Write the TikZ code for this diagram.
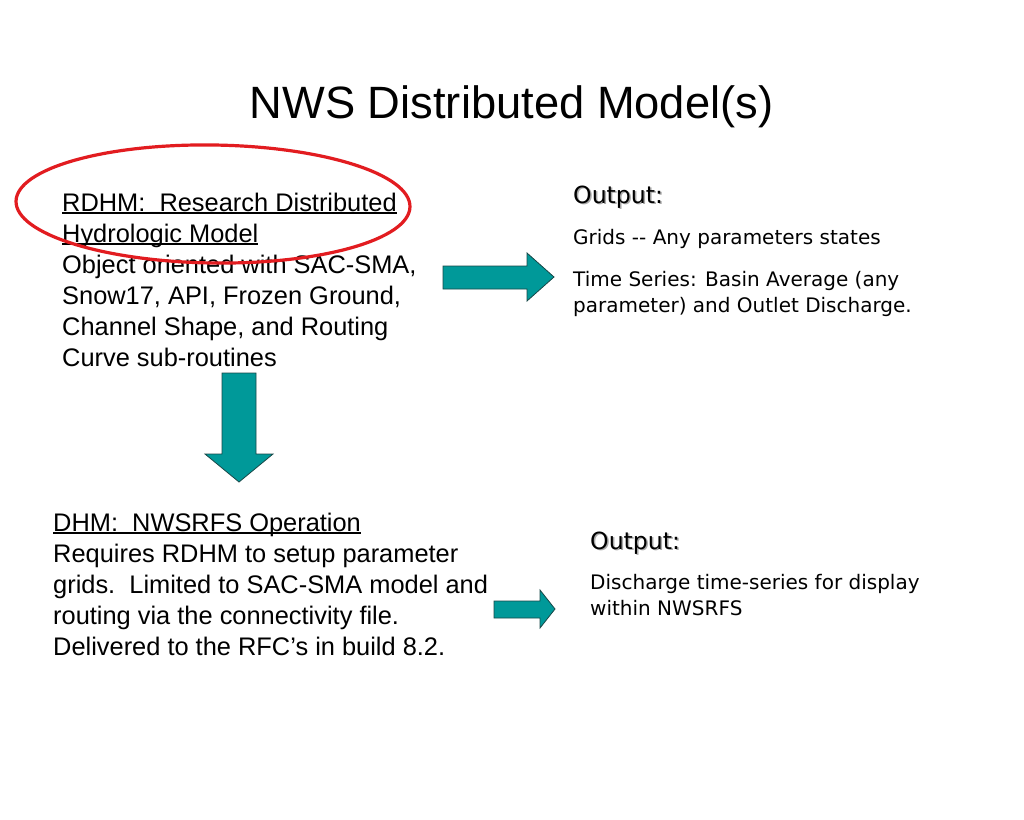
\documentclass[tikz,border=0pt]{standalone}
\usepackage{fontspec}
\setmainfont{Liberation Sans}
\newfontfamily\outfont{DejaVu Sans}
\definecolor{arrowteal}{RGB}{0,153,153}
\definecolor{arrowedge}{RGB}{24,72,72}
\definecolor{ringred}{RGB}{226,28,32}
\definecolor{shadowgray}{RGB}{170,170,170}
\newcommand\ulin[1]{\setbox0\hbox{#1}\rlap{\rule[-2.6pt]{\wd0}{1.3pt}}#1}
\begin{document}
\begin{tikzpicture}[x=1pt,y=-1pt,
  lefttext/.style={anchor=base west, inner sep=0pt, align=left, font=\fontsize{25.4}{31}\selectfont},
  outtext/.style={anchor=base west, inner sep=0pt, align=left, font=\outfont\fontsize{20}{26}\selectfont},
  outhead/.style={anchor=base west, inner sep=0pt, font=\outfont\fontsize{23.6}{30}\selectfont},
  blockarrow/.style={fill=arrowteal, draw=arrowedge, line width=0.8pt, line join=miter},
  ring/.style={draw=ringred, line width=3.2pt}]
\useasboundingbox (0,0) rectangle (1024,819);
\fill[white] (0,0) rectangle (1024,819);

\node[anchor=base, inner sep=0pt, font=\fontsize{45.3}{54}\selectfont] (title) at (511.5,118) {NWS Distributed Model(s)};

% base anchor of a multi-line node is the baseline of its last line
\node[lefttext] (rdhm) at (62,366) {\ulin{RDHM:\ \ Research Distributed}\\ \ulin{Hydrologic Model}\\ Object oriented with SAC-SMA,\\ Snow17, API, Frozen Ground,\\ Channel Shape, and Routing\\ Curve sub-routines};

\node[lefttext] (dhm) at (53,655) {\ulin{DHM:\ \ NWSRFS Operation}\\ Requires RDHM to setup parameter\\ grids.\ \ Limited to SAC-SMA model and\\ routing via the connectivity file.\\ Delivered to the RFC’s in build 8.2.};

\draw[ring, rotate around={-0.8:(213,204)}] (213,204) ellipse [x radius=197, y radius=59];

\node[outhead, text=shadowgray] at (574.5,204.5) {Output:};
\node[outhead] (outhead1) at (573,203) {Output:};
\node[outtext] (out1) at (573,312) {Grids -{}- Any parameters states\\[16pt] Time Series: Basin Average (any\\ parameter) and Outlet Discharge.};

\node[outhead, text=shadowgray] at (591.5,550.5) {Output:};
\node[outhead] (outhead2) at (590,549) {Output:};
\node[outtext] (out2) at (590,615) {Discharge time-series for display\\ within NWSRFS};

\draw[blockarrow] (443,266) -- (527,266) -- (527,253) -- (554,277) -- (527,301) -- (527,289) -- (443,289) -- cycle;
\draw[blockarrow] (222,373) -- (256,373) -- (256,454) -- (273,454) -- (239,482) -- (205,454) -- (222,454) -- cycle;
\draw[blockarrow] (494,601) -- (540,601) -- (540,590) -- (555,609) -- (540,628) -- (540,618) -- (494,618) -- cycle;
\end{tikzpicture}
\end{document}
